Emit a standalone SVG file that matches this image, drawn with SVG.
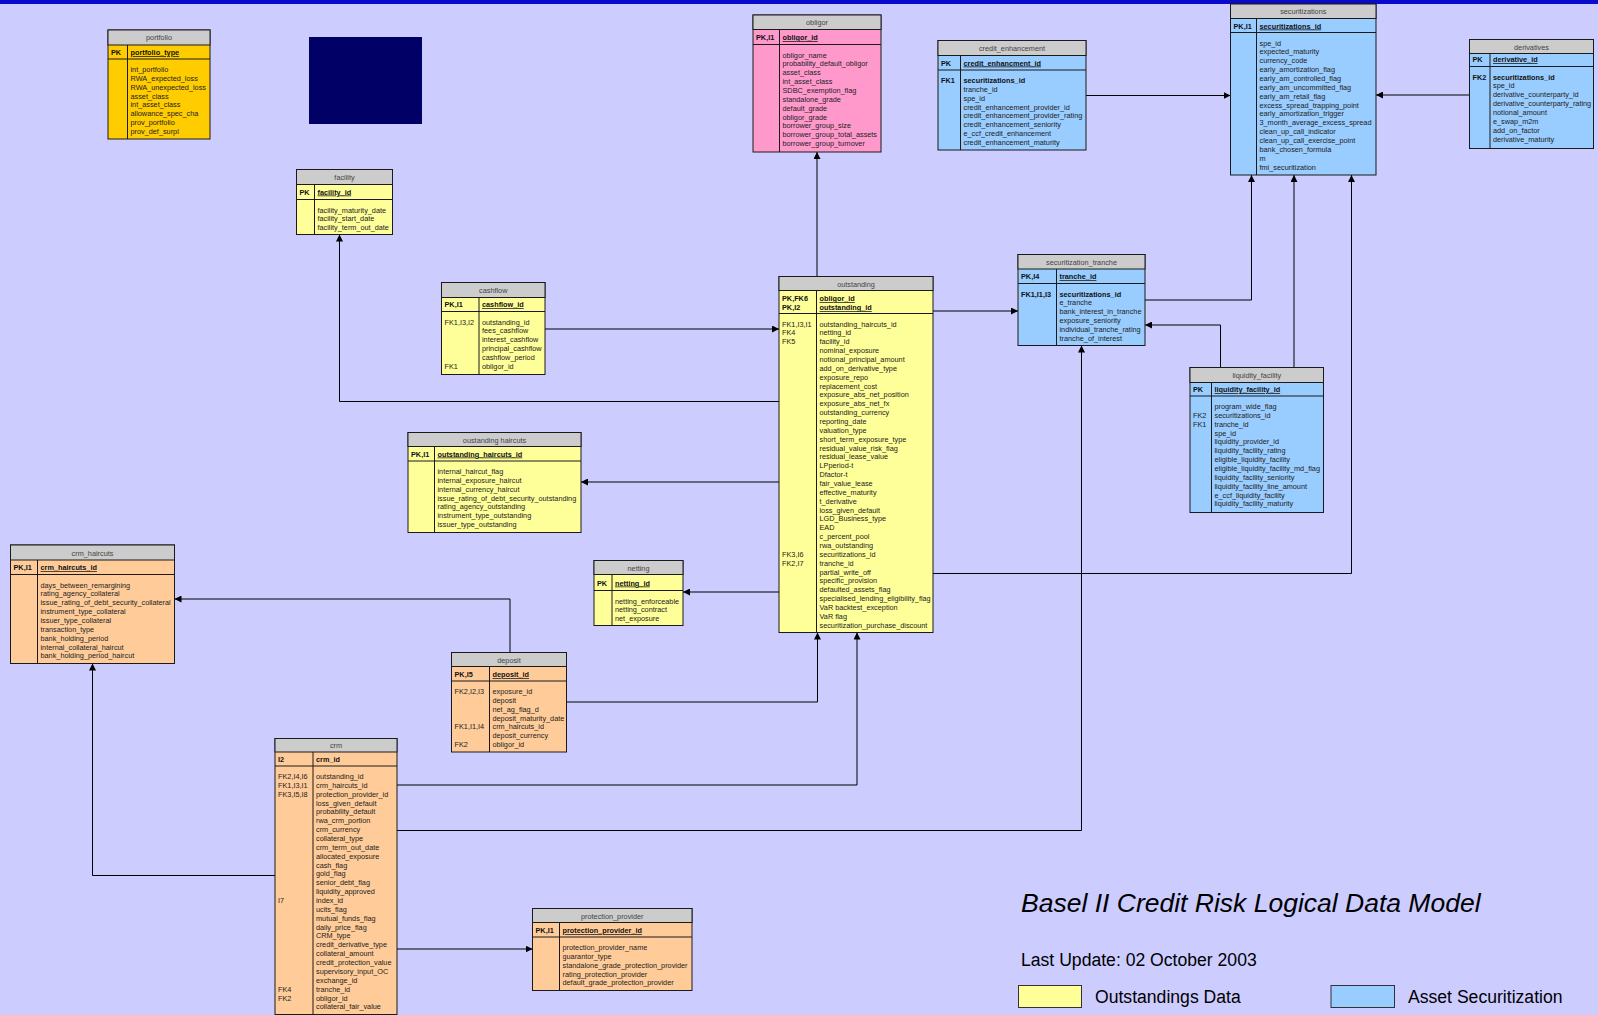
<svg xmlns="http://www.w3.org/2000/svg" width="1598" height="1015" viewBox="0 0 1598 1015">
<style>
.bg{fill:#ccccff}
.box{stroke:#1a1a1a;stroke-width:1}
.y{fill:#ffff99}.o{fill:#ffcc00}.p{fill:#ff99cc}.bl{fill:#99ccff}.pe{fill:#ffcc99}
.tr{fill:#cccccc;stroke:#1a1a1a;stroke-width:1}
.ln{stroke:#1a1a1a;stroke-width:1;fill:none}
text{font-family:"Liberation Sans",Arial,sans-serif;font-size:7.3px;fill:#222}
.t{fill:#444;text-anchor:middle}
.k{font-weight:bold;fill:#111}
.pk{font-weight:bold;fill:#111;text-decoration:underline}
.b{font-weight:bold;fill:#111}
.c path{stroke:#000;stroke-width:1;fill:none}
.big{font-size:17.6px;fill:#000}
.ttl{font-size:26.5px;font-style:italic;fill:#000}
</style>
<defs>
<marker id="ar" viewBox="0 0 8 8" refX="8" refY="4" markerWidth="7" markerHeight="7" markerUnits="userSpaceOnUse" orient="auto"><path d="M0,0 L8,4 L0,8 z" fill="#000"/></marker>
</defs>
<rect class="bg" x="0" y="0" width="1598" height="1015"/>
<rect x="0" y="0" width="1598" height="4" fill="#0a0acc"/>
<rect x="309" y="37" width="113" height="87" fill="#000066"/>

<g class="c">
<path d="M545,329 H779" marker-end="url(#ar)"/>
<path d="M779,401.5 H339.5 V234.5" marker-end="url(#ar)"/>
<path d="M779,482 H581" marker-end="url(#ar)"/>
<path d="M779,592 H683" marker-end="url(#ar)"/>
<path d="M817,276.5 V152" marker-end="url(#ar)"/>
<path d="M933,311 H1018" marker-end="url(#ar)"/>
<path d="M933,573.5 H1351.5 V175" marker-end="url(#ar)"/>
<path d="M1145,300 H1251.5 V175" marker-end="url(#ar)"/>
<path d="M1294,367.5 V175" marker-end="url(#ar)"/>
<path d="M1220.5,367.5 V325 H1145" marker-end="url(#ar)"/>
<path d="M1086,95.5 H1230.5" marker-end="url(#ar)"/>
<path d="M1469.5,95 H1376" marker-end="url(#ar)"/>
<path d="M275,875.5 H92.5 V663.5" marker-end="url(#ar)"/>
<path d="M510,652.5 V599 H174.5" marker-end="url(#ar)"/>
<path d="M566.5,702 H817.5 V632.5" marker-end="url(#ar)"/>
<path d="M397,785 H857 V632.5" marker-end="url(#ar)"/>
<path d="M397,830.5 H1081.5 V345.5" marker-end="url(#ar)"/>
<path d="M397,949 H532.5" marker-end="url(#ar)"/>
</g>

<g id="portfolio">
<rect class="box o" x="108" y="30" width="102" height="109"/>
<rect class="tr" x="108" y="30" width="102" height="15"/>
<text class="t" x="159" y="40">portfolio</text>
<path class="ln" d="M108,59 H210 M127.5,45 V139"/>
<text class="k" x="111" y="55">PK</text>
<text class="pk" x="130.5" y="55">portfolio_type</text>
<text x="130.5" y="72"><tspan x="130.5">int_portfolio</tspan><tspan x="130.5" dy="8.86">RWA_expected_loss</tspan><tspan x="130.5" dy="8.86">RWA_unexpected_loss</tspan><tspan x="130.5" dy="8.86">asset_class</tspan><tspan x="130.5" dy="8.86">int_asset_class</tspan><tspan x="130.5" dy="8.86">allowance_spec_cha</tspan><tspan x="130.5" dy="8.86">prov_portfolio</tspan><tspan x="130.5" dy="8.86">prov_def_surpl</tspan></text>
</g>

<g id="facility">
<rect class="box y" x="296.5" y="169.5" width="96" height="65"/>
<rect class="tr" x="296.5" y="169.5" width="96" height="15"/>
<text class="t" x="344.5" y="179.5">facility</text>
<path class="ln" d="M296.5,199.5 H392.5 M314.5,184.5 V234.5"/>
<text class="k" x="299.5" y="194.5">PK</text>
<text class="pk" x="317.5" y="194.5">facility_id</text>
<text x="317.5" y="212.5"><tspan x="317.5">facility_maturity_date</tspan><tspan x="317.5" dy="8.86">facility_start_date</tspan><tspan x="317.5" dy="8.86">facility_term_out_date</tspan></text>
</g>

<g id="obligor">
<rect class="box p" x="753" y="15" width="128" height="137"/>
<rect class="tr" x="753" y="15" width="128" height="14.5"/>
<text class="t" x="817" y="25">obligor</text>
<path class="ln" d="M753,44.5 H881 M779.5,29.5 V152"/>
<text class="k" x="756" y="40">PK,I1</text>
<text class="pk" x="782.5" y="40">obligor_id</text>
<text x="782.5" y="57.5"><tspan x="782.5">obligor_name</tspan><tspan x="782.5" dy="8.86">probability_default_obligor</tspan><tspan x="782.5" dy="8.86">asset_class</tspan><tspan x="782.5" dy="8.86">int_asset_class</tspan><tspan x="782.5" dy="8.86">SDBC_exemption_flag</tspan><tspan x="782.5" dy="8.86">standalone_grade</tspan><tspan x="782.5" dy="8.86">default_grade</tspan><tspan x="782.5" dy="8.86">obligor_grade</tspan><tspan x="782.5" dy="8.86">borrower_group_size</tspan><tspan x="782.5" dy="8.86">borrower_group_total_assets</tspan><tspan x="782.5" dy="8.86">borrower_group_turnover</tspan></text>
</g>

<g id="credit_enhancement">
<rect class="box bl" x="938" y="40.5" width="148" height="109.5"/>
<rect class="tr" x="938" y="40.5" width="148" height="15"/>
<text class="t" x="1012" y="50.5">credit_enhancement</text>
<path class="ln" d="M938,70 H1086 M960.5,55.5 V150"/>
<text class="k" x="941" y="65.5">PK</text>
<text class="pk" x="963.5" y="65.5">credit_enhancment_id</text>
<text class="k" x="941" y="83">FK1</text>
<text x="963.5" y="83"><tspan x="963.5" class="b">securitizations_id</tspan><tspan x="963.5" dy="8.86">tranche_id</tspan><tspan x="963.5" dy="8.86">spe_id</tspan><tspan x="963.5" dy="8.86">credit_enhancement_provider_id</tspan><tspan x="963.5" dy="8.86">credit_enhancement_provider_rating</tspan><tspan x="963.5" dy="8.86">credit_enhancement_seniority</tspan><tspan x="963.5" dy="8.86">e_ccf_credit_enhancement</tspan><tspan x="963.5" dy="8.86">credit_enhancement_maturity</tspan></text>
</g>

<g id="securitizations">
<rect class="box bl" x="1230.5" y="4" width="145.5" height="171"/>
<rect class="tr" x="1230.5" y="4" width="145.5" height="14.5"/>
<text class="t" x="1303.25" y="14">securitizations</text>
<path class="ln" d="M1230.5,32.5 H1376 M1256.5,18.5 V175"/>
<text class="k" x="1233.5" y="28.5">PK,I1</text>
<text class="pk" x="1259.5" y="28.5">securitizations_id</text>
<text x="1259.5" y="45.5"><tspan x="1259.5">spe_id</tspan><tspan x="1259.5" dy="8.86">expected_maturity</tspan><tspan x="1259.5" dy="8.86">currency_code</tspan><tspan x="1259.5" dy="8.86">early_amortization_flag</tspan><tspan x="1259.5" dy="8.86">early_am_controlled_flag</tspan><tspan x="1259.5" dy="8.86">early_am_uncommitted_flag</tspan><tspan x="1259.5" dy="8.86">early_am_retail_flag</tspan><tspan x="1259.5" dy="8.86">excess_spread_trapping_point</tspan><tspan x="1259.5" dy="8.86">early_amortization_trigger</tspan><tspan x="1259.5" dy="8.86">3_month_average_excess_spread</tspan><tspan x="1259.5" dy="8.86">clean_up_call_indicator</tspan><tspan x="1259.5" dy="8.86">clean_up_call_exercise_point</tspan><tspan x="1259.5" dy="8.86">bank_chosen_formula</tspan><tspan x="1259.5" dy="8.86">m</tspan><tspan x="1259.5" dy="8.86">fmi_securitization</tspan></text>
</g>

<g id="derivatives">
<rect class="box bl" x="1469.5" y="39.5" width="124" height="109"/>
<rect class="tr" x="1469.5" y="39.5" width="124" height="14"/>
<text class="t" x="1531.5" y="49.5">derivatives</text>
<path class="ln" d="M1469.5,66.5 H1593.5 M1490,53.5 V148.5"/>
<text class="k" x="1472.5" y="62">PK</text>
<text class="pk" x="1493" y="62">derivative_id</text>
<text class="k" x="1472.5" y="79.5">FK2</text>
<text x="1493" y="79.5"><tspan x="1493" class="b">securitizations_id</tspan><tspan x="1493" dy="8.86">spe_id</tspan><tspan x="1493" dy="8.86">derivative_counterparty_id</tspan><tspan x="1493" dy="8.86">derivative_counterparty_rating</tspan><tspan x="1493" dy="8.86">notional_amount</tspan><tspan x="1493" dy="8.86">e_swap_m2m</tspan><tspan x="1493" dy="8.86">add_on_factor</tspan><tspan x="1493" dy="8.86">derivative_maturity</tspan></text>
</g>

<g id="cashflow">
<rect class="box y" x="441.5" y="282.5" width="103.5" height="92"/>
<rect class="tr" x="441.5" y="282.5" width="103.5" height="15"/>
<text class="t" x="493.25" y="292.5">cashflow</text>
<path class="ln" d="M441.5,311.5 H545 M479,297.5 V374.5"/>
<text class="k" x="444.5" y="307">PK,I1</text>
<text class="pk" x="482" y="307">cashflow_id</text>
<text x="444.5" y="324.5">FK1,I3,I2</text>
<text x="444.5" y="368.8">FK1</text>
<text x="482" y="324.5"><tspan x="482">outstanding_id</tspan><tspan x="482" dy="8.86">fees_cashflow</tspan><tspan x="482" dy="8.86">interest_cashflow</tspan><tspan x="482" dy="8.86">principal_cashflow</tspan><tspan x="482" dy="8.86">cashflow_period</tspan><tspan x="482" dy="8.86">obligor_id</tspan></text>
</g>

<g id="outstanding_haircuts">
<rect class="box y" x="408" y="432.5" width="173" height="100"/>
<rect class="tr" x="408" y="432.5" width="173" height="14"/>
<text class="t" x="494.5" y="442.5">oustanding haircuts</text>
<path class="ln" d="M408,461 H581 M434.5,446.5 V532.5"/>
<text class="k" x="411" y="456.5">PK,I1</text>
<text class="pk" x="437.5" y="456.5">outstanding_haircuts_id</text>
<text x="437.5" y="474"><tspan x="437.5">internal_haircut_flag</tspan><tspan x="437.5" dy="8.86">internal_exposure_haircut</tspan><tspan x="437.5" dy="8.86">internal_currency_haircut</tspan><tspan x="437.5" dy="8.86">issue_rating_of_debt_security_outstanding</tspan><tspan x="437.5" dy="8.86">rating_agency_outstanding</tspan><tspan x="437.5" dy="8.86">instrument_type_outstanding</tspan><tspan x="437.5" dy="8.86">issuer_type_outstanding</tspan></text>
</g>

<g id="outstanding">
<rect class="box y" x="779" y="276.5" width="154" height="356"/>
<rect class="tr" x="779" y="276.5" width="154" height="14"/>
<text class="t" x="856" y="286.5">outstanding</text>
<path class="ln" d="M779,313.5 H933 M816.5,290.5 V632.5"/>
<text class="k" x="782" y="301">PK,FK6</text>
<text class="k" x="782" y="310">PK,I2</text>
<text class="pk" x="819.5" y="301">obligor_id</text>
<text class="pk" x="819.5" y="310">outstanding_id</text>
<text x="782" y="326.5">FK1,I3,I1</text>
<text x="782" y="335.36">FK4</text>
<text x="782" y="344.22">FK5</text>
<text x="782" y="556.86">FK3,I6</text>
<text x="782" y="565.72">FK2,I7</text>
<text x="819.5" y="326.5"><tspan x="819.5">outstanding_haircuts_id</tspan><tspan x="819.5" dy="8.86">netting_id</tspan><tspan x="819.5" dy="8.86">facility_id</tspan><tspan x="819.5" dy="8.86">nominal_exposure</tspan><tspan x="819.5" dy="8.86">notional_principal_amount</tspan><tspan x="819.5" dy="8.86">add_on_derivative_type</tspan><tspan x="819.5" dy="8.86">exposure_repo</tspan><tspan x="819.5" dy="8.86">replacement_cost</tspan><tspan x="819.5" dy="8.86">exposure_abs_net_position</tspan><tspan x="819.5" dy="8.86">exposure_abs_net_fx</tspan><tspan x="819.5" dy="8.86">outstanding_currency</tspan><tspan x="819.5" dy="8.86">reporting_date</tspan><tspan x="819.5" dy="8.86">valuation_type</tspan><tspan x="819.5" dy="8.86">short_term_exposure_type</tspan><tspan x="819.5" dy="8.86">residual_value_risk_flag</tspan><tspan x="819.5" dy="8.86">residual_lease_value</tspan><tspan x="819.5" dy="8.86">LPperiod-t</tspan><tspan x="819.5" dy="8.86">Dfactor-t</tspan><tspan x="819.5" dy="8.86">fair_value_lease</tspan><tspan x="819.5" dy="8.86">effective_maturity</tspan><tspan x="819.5" dy="8.86">t_derivative</tspan><tspan x="819.5" dy="8.86">loss_given_default</tspan><tspan x="819.5" dy="8.86">LGD_Business_type</tspan><tspan x="819.5" dy="8.86">EAD</tspan><tspan x="819.5" dy="8.86">c_percent_pool</tspan><tspan x="819.5" dy="8.86">rwa_outstanding</tspan><tspan x="819.5" dy="8.86">securitizations_id</tspan><tspan x="819.5" dy="8.86">tranche_id</tspan><tspan x="819.5" dy="8.86">partial_write_off</tspan><tspan x="819.5" dy="8.86">specific_provision</tspan><tspan x="819.5" dy="8.86">defaulted_assets_flag</tspan><tspan x="819.5" dy="8.86">specialised_lending_eligibility_flag</tspan><tspan x="819.5" dy="8.86">VaR backtest_exception</tspan><tspan x="819.5" dy="8.86">VaR flag</tspan><tspan x="819.5" dy="8.86">securitization_purchase_discount</tspan></text>
</g>

<g id="securitization_tranche">
<rect class="box bl" x="1018" y="254.5" width="127" height="91"/>
<rect class="tr" x="1018" y="254.5" width="127" height="14.5"/>
<text class="t" x="1081.5" y="264.5">securitization_tranche</text>
<path class="ln" d="M1018,283.5 H1145 M1056.5,269 V345.5"/>
<text class="k" x="1021" y="279">PK,I4</text>
<text class="pk" x="1059.5" y="279">tranche_id</text>
<text class="k" x="1021" y="296.5">FK1,I1,I3</text>
<text x="1059.5" y="296.5"><tspan x="1059.5" class="b">securitizations_id</tspan><tspan x="1059.5" dy="8.86">e_tranche</tspan><tspan x="1059.5" dy="8.86">bank_interest_in_tranche</tspan><tspan x="1059.5" dy="8.86">exposure_seniority</tspan><tspan x="1059.5" dy="8.86">individual_tranche_rating</tspan><tspan x="1059.5" dy="8.86">tranche_of_interest</tspan></text>
</g>

<g id="liquidity_facility">
<rect class="box bl" x="1190" y="367.5" width="133.5" height="145"/>
<rect class="tr" x="1190" y="367.5" width="133.5" height="15"/>
<text class="t" x="1256.75" y="378">liquidity_facility</text>
<path class="ln" d="M1190,396 H1323.5 M1211.5,382.5 V512.5"/>
<text class="k" x="1193" y="392">PK</text>
<text class="pk" x="1214.5" y="392">liquidity_facility_id</text>
<text x="1193" y="417.86">FK2</text>
<text x="1193" y="426.72">FK1</text>
<text x="1214.5" y="409"><tspan x="1214.5">program_wide_flag</tspan><tspan x="1214.5" dy="8.86">securitizations_id</tspan><tspan x="1214.5" dy="8.86">tranche_id</tspan><tspan x="1214.5" dy="8.86">spe_id</tspan><tspan x="1214.5" dy="8.86">liquidity_provider_id</tspan><tspan x="1214.5" dy="8.86">liquidity_facility_rating</tspan><tspan x="1214.5" dy="8.86">eligible_liquidity_facility</tspan><tspan x="1214.5" dy="8.86">eligible_liquidity_facility_md_flag</tspan><tspan x="1214.5" dy="8.86">liquidity_facility_seniority</tspan><tspan x="1214.5" dy="8.86">liquidity_facility_line_amount</tspan><tspan x="1214.5" dy="8.86">e_ccf_liquidity_facility</tspan><tspan x="1214.5" dy="8.86">liquidity_facility_maturity</tspan></text>
</g>

<g id="crm_haircuts">
<rect class="box pe" x="10.5" y="545" width="164" height="118.5"/>
<rect class="tr" x="10.5" y="545" width="164" height="15"/>
<text class="t" x="92.5" y="555.5">crm_haircuts</text>
<path class="ln" d="M10.5,574.5 H174.5 M37.5,560 V663.5"/>
<text class="k" x="13.5" y="570">PK,I1</text>
<text class="pk" x="40.5" y="570">crm_haircuts_id</text>
<text x="40.5" y="587.5"><tspan x="40.5">days_between_remargining</tspan><tspan x="40.5" dy="8.86">rating_agency_collateral</tspan><tspan x="40.5" dy="8.86">issue_rating_of_debt_security_collateral</tspan><tspan x="40.5" dy="8.86">instrument_type_collateral</tspan><tspan x="40.5" dy="8.86">issuer_type_collateral</tspan><tspan x="40.5" dy="8.86">transaction_type</tspan><tspan x="40.5" dy="8.86">bank_holding_period</tspan><tspan x="40.5" dy="8.86">internal_collateral_haircut</tspan><tspan x="40.5" dy="8.86">bank_holding_period_haircut</tspan></text>
</g>

<g id="netting">
<rect class="box y" x="594" y="560.5" width="89" height="65"/>
<rect class="tr" x="594" y="560.5" width="89" height="14"/>
<text class="t" x="638.5" y="570.5">netting</text>
<path class="ln" d="M594,590.5 H683 M612,574.5 V625.5"/>
<text class="k" x="597" y="585.5">PK</text>
<text class="pk" x="615" y="585.5">netting_id</text>
<text x="615" y="603.5"><tspan x="615">netting_enforceable</tspan><tspan x="615" dy="8.86">netting_contract</tspan><tspan x="615" dy="8.86">net_exposure</tspan></text>
</g>

<g id="deposit">
<rect class="box pe" x="451.5" y="652.5" width="115" height="99.5"/>
<rect class="tr" x="451.5" y="652.5" width="115" height="14"/>
<text class="t" x="509" y="662.5">deposit</text>
<path class="ln" d="M451.5,681 H566.5 M489.5,666.5 V752"/>
<text class="k" x="454.5" y="677">PK,I5</text>
<text class="pk" x="492.5" y="677">deposit_id</text>
<text x="454.5" y="694">FK2,I2,I3</text>
<text x="454.5" y="729.44">FK1,I1,I4</text>
<text x="454.5" y="747.16">FK2</text>
<text x="492.5" y="694"><tspan x="492.5">exposure_id</tspan><tspan x="492.5" dy="8.86">deposit</tspan><tspan x="492.5" dy="8.86">net_ag_flag_d</tspan><tspan x="492.5" dy="8.86">deposit_maturity_date</tspan><tspan x="492.5" dy="8.86">crm_haircuts_id</tspan><tspan x="492.5" dy="8.86">deposit_currency</tspan><tspan x="492.5" dy="8.86">obligor_id</tspan></text>
</g>

<g id="crm">
<rect class="box pe" x="275" y="738.5" width="122" height="276"/>
<rect class="tr" x="275" y="738.5" width="122" height="13.5"/>
<text class="t" x="336" y="748">crm</text>
<path class="ln" d="M275,766 H397 M313,752 V1014.5"/>
<text class="k" x="278" y="762">I2</text>
<text class="k" x="316" y="762">crm_id</text>
<text x="278" y="779">FK2,I4,I6</text>
<text x="278" y="787.86">FK1,I3,I1</text>
<text x="278" y="796.72">FK3,I5,I8</text>
<text x="278" y="903.04">I7</text>
<text x="278" y="991.64">FK4</text>
<text x="278" y="1000.5">FK2</text>
<text x="316" y="779"><tspan x="316">outstanding_id</tspan><tspan x="316" dy="8.86">crm_haircuts_id</tspan><tspan x="316" dy="8.86">protection_provider_id</tspan><tspan x="316" dy="8.86">loss_given_default</tspan><tspan x="316" dy="8.86">probability_default</tspan><tspan x="316" dy="8.86">rwa_crm_portion</tspan><tspan x="316" dy="8.86">crm_currency</tspan><tspan x="316" dy="8.86">collateral_type</tspan><tspan x="316" dy="8.86">crm_term_out_date</tspan><tspan x="316" dy="8.86">allocated_exposure</tspan><tspan x="316" dy="8.86">cash_flag</tspan><tspan x="316" dy="8.86">gold_flag</tspan><tspan x="316" dy="8.86">senior_debt_flag</tspan><tspan x="316" dy="8.86">liquidity_approved</tspan><tspan x="316" dy="8.86">index_id</tspan><tspan x="316" dy="8.86">ucits_flag</tspan><tspan x="316" dy="8.86">mutual_funds_flag</tspan><tspan x="316" dy="8.86">daily_price_flag</tspan><tspan x="316" dy="8.86">CRM_type</tspan><tspan x="316" dy="8.86">credit_derivative_type</tspan><tspan x="316" dy="8.86">collateral_amount</tspan><tspan x="316" dy="8.86">credit_protection_value</tspan><tspan x="316" dy="8.86">supervisory_input_OC</tspan><tspan x="316" dy="8.86">exchange_id</tspan><tspan x="316" dy="8.86">tranche_id</tspan><tspan x="316" dy="8.86">obligor_id</tspan><tspan x="316" dy="8.86">collateral_fair_value</tspan></text>
</g>

<g id="protection_provider">
<rect class="box pe" x="532.5" y="908.5" width="159.5" height="82"/>
<rect class="tr" x="532.5" y="908.5" width="159.5" height="14"/>
<text class="t" x="612.25" y="918.5">protection_provider</text>
<path class="ln" d="M532.5,937 H692 M559.5,922.5 V990.5"/>
<text class="k" x="535.5" y="933">PK,I1</text>
<text class="pk" x="562.5" y="933">protection_provider_id</text>
<text x="562.5" y="950"><tspan x="562.5">protection_provider_name</tspan><tspan x="562.5" dy="8.86">guarantor_type</tspan><tspan x="562.5" dy="8.86">standalone_grade_protection_provider</tspan><tspan x="562.5" dy="8.86">rating_protection_provider</tspan><tspan x="562.5" dy="8.86">default_grade_protection_provider</tspan></text>
</g>

<g id="legend">
<text class="ttl" x="1021" y="912">Basel II Credit Risk Logical Data Model</text>
<text class="big" x="1021" y="966">Last Update: 02 October 2003</text>
<rect x="1018.5" y="985.5" width="63" height="22" fill="#ffff99" stroke="#333" stroke-width="1"/>
<text class="big" x="1095" y="1003">Outstandings Data</text>
<rect x="1331" y="985.5" width="63.5" height="22" fill="#99ccff" stroke="#333" stroke-width="1"/>
<text class="big" x="1408" y="1003">Asset Securitization</text>
</g>
</svg>
